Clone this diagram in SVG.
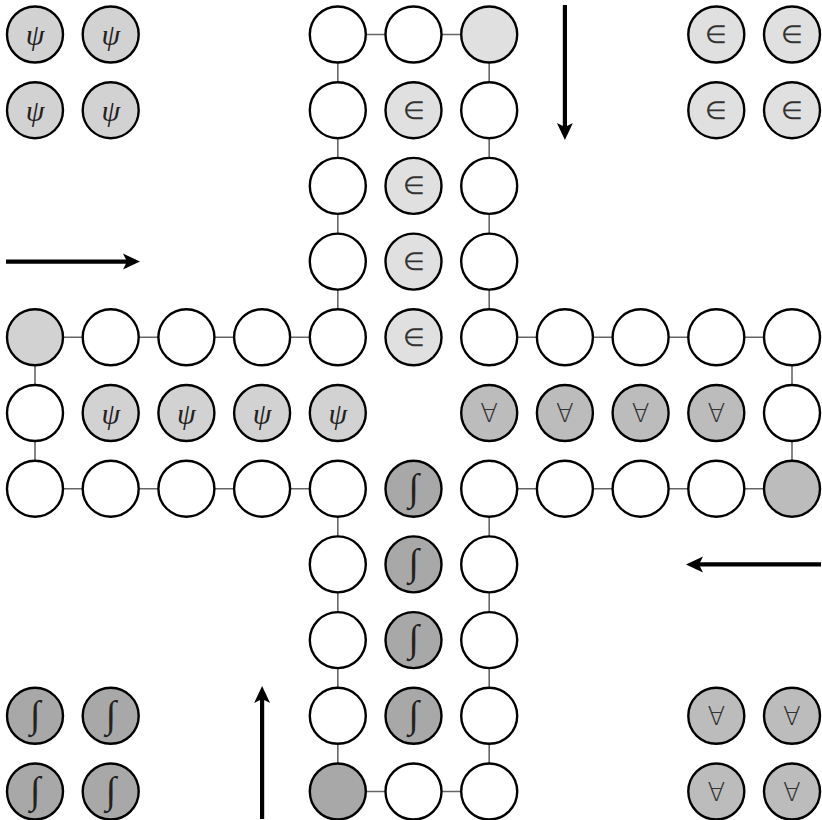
<svg xmlns="http://www.w3.org/2000/svg" width="822" height="820" viewBox="0 0 822 820">
<style>
.n circle{stroke:#000;stroke-width:2.4}
.w{fill:#fff}
.e{fill:#e0e0e0}
.p{fill:#d2d2d2}
.a{fill:#bcbcbc}
.i{fill:#a8a8a8}
.n text{font-family:"DejaVu Sans","Liberation Sans",sans-serif;font-weight:200;font-size:25px;fill:#333;text-anchor:middle;dominant-baseline:central}
.n text.all{font-size:26px}
.n text.psi{font-family:"Liberation Serif",serif;font-weight:normal;font-style:italic;font-size:30px;fill:#222}
.n text.int{font-family:"Liberation Serif",serif;font-weight:normal;font-style:italic;font-size:38px;fill:#222;transform:translateY(-2px)}
.c line{stroke:#666;stroke-width:1.6}
.ar line{stroke:#000;stroke-width:4.2}
</style>
<defs>
<marker id="ah" markerUnits="userSpaceOnUse" markerWidth="24" markerHeight="20" viewBox="-10 -10 24 20" refX="0" refY="0" orient="auto">
<path d="M11,0 L-6,-8 L-2,0 L-6,8 Z" fill="#000"/>
</marker>
</defs>
<g class="c">
<line x1="337.8" y1="34.5" x2="489.2" y2="34.5"/>
<line x1="337.8" y1="34.5" x2="337.8" y2="337.3"/>
<line x1="489.2" y1="34.5" x2="489.2" y2="337.3"/>
<line x1="35" y1="337.3" x2="337.8" y2="337.3"/>
<line x1="489.2" y1="337.3" x2="792" y2="337.3"/>
<line x1="35" y1="337.3" x2="35" y2="488.7"/>
<line x1="792" y1="337.3" x2="792" y2="488.7"/>
<line x1="35" y1="488.7" x2="337.8" y2="488.7"/>
<line x1="489.2" y1="488.7" x2="792" y2="488.7"/>
<line x1="337.8" y1="488.7" x2="337.8" y2="791.5"/>
<line x1="489.2" y1="488.7" x2="489.2" y2="791.5"/>
<line x1="337.8" y1="791.5" x2="489.2" y2="791.5"/>
</g>
<g class="ar">
<line x1="6" y1="261.6" x2="129" y2="261.6" marker-end="url(#ah)"/>
<line x1="564.9" y1="5" x2="564.9" y2="129" marker-end="url(#ah)"/>
<line x1="821" y1="564.4" x2="697" y2="564.4" marker-end="url(#ah)"/>
<line x1="262.1" y1="819" x2="262.1" y2="697" marker-end="url(#ah)"/>
</g>
<!-- corner homes -->
<g id="psi-h1" class="n"><circle class="p" cx="35" cy="34.5" r="28"/><text class="psi" x="35" y="34.5">ψ</text></g>
<g id="psi-h2" class="n"><circle class="p" cx="110.7" cy="34.5" r="28"/><text class="psi" x="110.7" y="34.5">ψ</text></g>
<g id="psi-h3" class="n"><circle class="p" cx="35" cy="110.2" r="28"/><text class="psi" x="35" y="110.2">ψ</text></g>
<g id="psi-h4" class="n"><circle class="p" cx="110.7" cy="110.2" r="28"/><text class="psi" x="110.7" y="110.2">ψ</text></g>
<g id="in-h1" class="n"><circle class="e" cx="716.3" cy="34.5" r="28"/><text x="716.3" y="34.5">∈</text></g>
<g id="in-h2" class="n"><circle class="e" cx="792" cy="34.5" r="28"/><text x="792" y="34.5">∈</text></g>
<g id="in-h3" class="n"><circle class="e" cx="716.3" cy="110.2" r="28"/><text x="716.3" y="110.2">∈</text></g>
<g id="in-h4" class="n"><circle class="e" cx="792" cy="110.2" r="28"/><text x="792" y="110.2">∈</text></g>
<g id="int-h1" class="n"><circle class="i" cx="35" cy="715.8" r="28"/><text class="int" x="35" y="715.8">∫</text></g>
<g id="int-h2" class="n"><circle class="i" cx="110.7" cy="715.8" r="28"/><text class="int" x="110.7" y="715.8">∫</text></g>
<g id="int-h3" class="n"><circle class="i" cx="35" cy="791.5" r="28"/><text class="int" x="35" y="791.5">∫</text></g>
<g id="int-h4" class="n"><circle class="i" cx="110.7" cy="791.5" r="28"/><text class="int" x="110.7" y="791.5">∫</text></g>
<g id="all-h1" class="n"><circle class="a" cx="716.3" cy="715.8" r="28"/><text class="all" x="716.3" y="715.8">∀</text></g>
<g id="all-h2" class="n"><circle class="a" cx="792" cy="715.8" r="28"/><text class="all" x="792" y="715.8">∀</text></g>
<g id="all-h3" class="n"><circle class="a" cx="716.3" cy="791.5" r="28"/><text class="all" x="716.3" y="791.5">∀</text></g>
<g id="all-h4" class="n"><circle class="a" cx="792" cy="791.5" r="28"/><text class="all" x="792" y="791.5">∀</text></g>
<!-- top arm -->
<g id="t1" class="n"><circle class="w" cx="337.8" cy="34.5" r="28"/></g>
<g id="t2" class="n"><circle class="w" cx="413.5" cy="34.5" r="28"/></g>
<g id="t3" class="n"><circle class="e" cx="489.2" cy="34.5" r="28"/></g>
<g id="t4" class="n"><circle class="w" cx="337.8" cy="110.2" r="28"/></g>
<g id="t5" class="n"><circle class="e" cx="413.5" cy="110.2" r="28"/><text x="413.5" y="110.2">∈</text></g>
<g id="t6" class="n"><circle class="w" cx="489.2" cy="110.2" r="28"/></g>
<g id="t7" class="n"><circle class="w" cx="337.8" cy="185.9" r="28"/></g>
<g id="t8" class="n"><circle class="e" cx="413.5" cy="185.9" r="28"/><text x="413.5" y="185.9">∈</text></g>
<g id="t9" class="n"><circle class="w" cx="489.2" cy="185.9" r="28"/></g>
<g id="t10" class="n"><circle class="w" cx="337.8" cy="261.6" r="28"/></g>
<g id="t11" class="n"><circle class="e" cx="413.5" cy="261.6" r="28"/><text x="413.5" y="261.6">∈</text></g>
<g id="t12" class="n"><circle class="w" cx="489.2" cy="261.6" r="28"/></g>
<!-- row 4 -->
<g id="r4-0" class="n"><circle class="p" cx="35" cy="337.3" r="28"/></g>
<g id="r4-1" class="n"><circle class="w" cx="110.7" cy="337.3" r="28"/></g>
<g id="r4-2" class="n"><circle class="w" cx="186.4" cy="337.3" r="28"/></g>
<g id="r4-3" class="n"><circle class="w" cx="262.1" cy="337.3" r="28"/></g>
<g id="r4-4" class="n"><circle class="w" cx="337.8" cy="337.3" r="28"/></g>
<g id="r4-5" class="n"><circle class="e" cx="413.5" cy="337.3" r="28"/><text x="413.5" y="337.3">∈</text></g>
<g id="r4-6" class="n"><circle class="w" cx="489.2" cy="337.3" r="28"/></g>
<g id="r4-7" class="n"><circle class="w" cx="564.9" cy="337.3" r="28"/></g>
<g id="r4-8" class="n"><circle class="w" cx="640.6" cy="337.3" r="28"/></g>
<g id="r4-9" class="n"><circle class="w" cx="716.3" cy="337.3" r="28"/></g>
<g id="r4-10" class="n"><circle class="w" cx="792" cy="337.3" r="28"/></g>
<!-- row 5 -->
<g id="r5-0" class="n"><circle class="w" cx="35" cy="413" r="28"/></g>
<g id="r5-1" class="n"><circle class="p" cx="110.7" cy="413" r="28"/><text class="psi" x="110.7" y="413">ψ</text></g>
<g id="r5-2" class="n"><circle class="p" cx="186.4" cy="413" r="28"/><text class="psi" x="186.4" y="413">ψ</text></g>
<g id="r5-3" class="n"><circle class="p" cx="262.1" cy="413" r="28"/><text class="psi" x="262.1" y="413">ψ</text></g>
<g id="r5-4" class="n"><circle class="p" cx="337.8" cy="413" r="28"/><text class="psi" x="337.8" y="413">ψ</text></g>
<g id="r5-6" class="n"><circle class="a" cx="489.2" cy="413" r="28"/><text class="all" x="489.2" y="413">∀</text></g>
<g id="r5-7" class="n"><circle class="a" cx="564.9" cy="413" r="28"/><text class="all" x="564.9" y="413">∀</text></g>
<g id="r5-8" class="n"><circle class="a" cx="640.6" cy="413" r="28"/><text class="all" x="640.6" y="413">∀</text></g>
<g id="r5-9" class="n"><circle class="a" cx="716.3" cy="413" r="28"/><text class="all" x="716.3" y="413">∀</text></g>
<g id="r5-10" class="n"><circle class="w" cx="792" cy="413" r="28"/></g>
<!-- row 6 -->
<g id="r6-0" class="n"><circle class="w" cx="35" cy="488.7" r="28"/></g>
<g id="r6-1" class="n"><circle class="w" cx="110.7" cy="488.7" r="28"/></g>
<g id="r6-2" class="n"><circle class="w" cx="186.4" cy="488.7" r="28"/></g>
<g id="r6-3" class="n"><circle class="w" cx="262.1" cy="488.7" r="28"/></g>
<g id="r6-4" class="n"><circle class="w" cx="337.8" cy="488.7" r="28"/></g>
<g id="r6-5" class="n"><circle class="i" cx="413.5" cy="488.7" r="28"/><text class="int" x="413.5" y="488.7">∫</text></g>
<g id="r6-6" class="n"><circle class="w" cx="489.2" cy="488.7" r="28"/></g>
<g id="r6-7" class="n"><circle class="w" cx="564.9" cy="488.7" r="28"/></g>
<g id="r6-8" class="n"><circle class="w" cx="640.6" cy="488.7" r="28"/></g>
<g id="r6-9" class="n"><circle class="w" cx="716.3" cy="488.7" r="28"/></g>
<g id="r6-10" class="n"><circle class="a" cx="792" cy="488.7" r="28"/></g>
<!-- bottom arm -->
<g id="b1" class="n"><circle class="w" cx="337.8" cy="564.4" r="28"/></g>
<g id="b2" class="n"><circle class="i" cx="413.5" cy="564.4" r="28"/><text class="int" x="413.5" y="564.4">∫</text></g>
<g id="b3" class="n"><circle class="w" cx="489.2" cy="564.4" r="28"/></g>
<g id="b4" class="n"><circle class="w" cx="337.8" cy="640.1" r="28"/></g>
<g id="b5" class="n"><circle class="i" cx="413.5" cy="640.1" r="28"/><text class="int" x="413.5" y="640.1">∫</text></g>
<g id="b6" class="n"><circle class="w" cx="489.2" cy="640.1" r="28"/></g>
<g id="b7" class="n"><circle class="w" cx="337.8" cy="715.8" r="28"/></g>
<g id="b8" class="n"><circle class="i" cx="413.5" cy="715.8" r="28"/><text class="int" x="413.5" y="715.8">∫</text></g>
<g id="b9" class="n"><circle class="w" cx="489.2" cy="715.8" r="28"/></g>
<g id="b10" class="n"><circle class="i" cx="337.8" cy="791.5" r="28"/></g>
<g id="b11" class="n"><circle class="w" cx="413.5" cy="791.5" r="28"/></g>
<g id="b12" class="n"><circle class="w" cx="489.2" cy="791.5" r="28"/></g>
</svg>
